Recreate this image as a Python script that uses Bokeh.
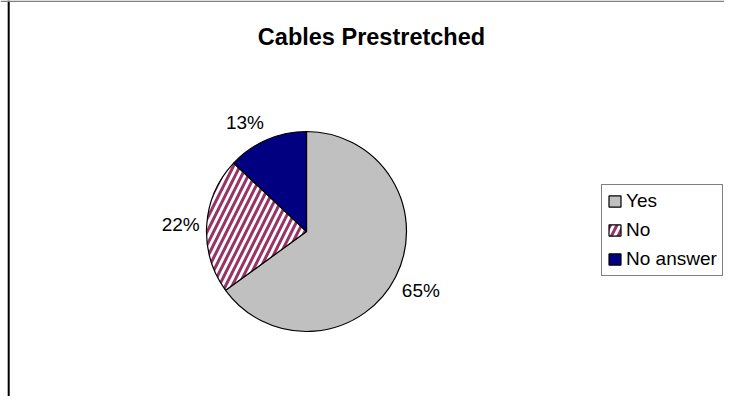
import numpy as np
from bokeh.plotting import figure
from bokeh.models import Range1d, Legend, LegendItem, Span
from bokeh.core.properties import value
from bokeh.embed import file_html
from bokeh.resources import INLINE

# ---- data ----
title_text = "Cables Prestretched"
categories = ["Yes", "No", "No answer"]
shares = [65, 22, 13]
fill_colors = ["#C0C0C0", "#FFFFFF", "#000080"]
hatch_patterns = [None, "/", None]
hatch_color = "#993366"

# ---- layout (picture pixels) ----
W, H = 724, 396
FONT = "Liberation Sans"

def fy(pic_y):
    return H - pic_y

cx, cy, R = 306, fy(231), 100
R_LABEL = 107

p = figure(width=W, height=H, output_backend="svg", toolbar_location=None,
           x_range=Range1d(0, W), y_range=Range1d(0, H),
           x_axis_type=None, y_axis_type=None, min_border=0)
p.grid.visible = False
p.outline_line_color = None
p.background_fill_color = "white"
p.border_fill_color = "white"

# chart frame edges
p.add_layout(Span(location=8.2, dimension="height", line_color="black", line_width=2))
p.add_layout(Span(location=fy(0.8), dimension="width", line_color="#808080", line_width=1.6))

frac = np.array(shares, dtype=float) / sum(shares)
cum = np.cumsum(frac)
starts = np.pi / 2 - 2 * np.pi * (cum - frac)
ends = np.pi / 2 - 2 * np.pi * cum

renderers = []
for i, cat in enumerate(categories):
    r = p.wedge(x=cx, y=cy, radius=R, start_angle=starts[i], end_angle=ends[i],
                direction="clock", fill_color=fill_colors[i], line_color="black",
                line_width=1.2, hatch_pattern=hatch_patterns[i], hatch_color=hatch_color,
                hatch_weight=3, hatch_scale=13)
    renderers.append(r)

# percentage labels outside slices
for i in range(len(categories)):
    mid = (starts[i] + ends[i]) / 2
    c, s = np.cos(mid), np.sin(mid)
    if abs(s) < 0.3:
        baseline = "middle"
    else:
        baseline = "bottom" if s > 0 else "top"
    p.text(x=[cx + R_LABEL * c], y=[cy + R_LABEL * s], text=[f"{shares[i]}%"],
           text_font=value(FONT), text_font_size="19px", text_color="black",
           text_align="right" if c < 0 else "left", text_baseline=baseline)

# title
p.text(x=[371], y=[fy(36.7)], text=[title_text], text_font=value(FONT),
       text_font_style="bold", text_font_size="23.5px", text_color="black",
       text_align="center", text_baseline="alphabetic")

legend = Legend(items=[LegendItem(label=c, renderers=[r]) for c, r in zip(categories, renderers)],
                location=(601, fy(276)), orientation="vertical",
                border_line_color="black", border_line_width=1,
                background_fill_color="white", background_fill_alpha=1.0,
                padding=5, margin=0, spacing=7,
                glyph_width=15, glyph_height=14, label_width=88, label_standoff=4,
                label_text_font=FONT, label_text_font_size="19px", label_text_color="black")
p.add_layout(legend)

open("out.html", "w").write(file_html(p, INLINE))
